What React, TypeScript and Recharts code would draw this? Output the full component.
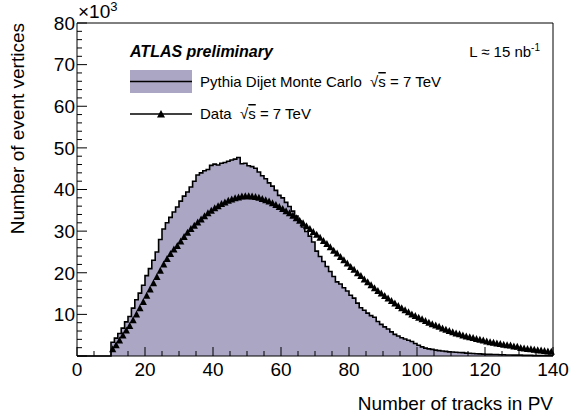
import React from "react";
import { ComposedChart, Area, Scatter, XAxis, YAxis } from "recharts";

// Pythia dijet MC histogram, bins of width 1 from 10 to 140 (x10^3 vertices)
const MC_FIRST_BIN = 10;
const mcCounts = [
  3.3, 4.3, 5.4, 6.7, 8.2, 9.5, 11.5, 13.5, 15.1, 17.0,
  19.3, 21.0, 23.0, 25.0, 28.0, 30.5, 32.0, 33.3, 34.6, 35.8,
  37.2, 38.4, 39.4, 40.6, 42.0, 43.5, 44.0, 44.5, 44.8, 45.8,
  46.1, 45.9, 46.3, 46.5, 46.8, 47.1, 47.3, 47.7, 46.2, 46.3,
  45.7, 45.5, 45.1, 44.2, 43.3, 42.6, 41.6, 40.8, 39.8, 38.6,
  38.0, 36.9, 35.9, 34.8, 33.6, 32.4, 31.0, 29.9, 28.8, 27.4,
  25.2, 23.9, 22.7, 21.5, 20.3, 19.1, 17.8, 17.3, 16.4, 15.6,
  14.6, 13.9, 12.7, 11.6, 11.0, 10.3, 9.7, 9.3, 8.3, 7.6,
  7.0, 6.5, 5.8, 5.2, 4.8, 4.4, 4.1, 3.8, 3.5, 3.0,
  2.6, 2.2, 1.9, 1.7, 1.6, 1.4, 1.3, 1.2, 1.1, 1.0,
  0.95, 0.9, 0.85, 0.8, 0.7, 0.65, 0.6, 0.55, 0.5, 0.45,
  0.4, 0.4, 0.35, 0.35, 0.3, 0.3, 0.25, 0.25, 0.2, 0.2,
  0.2, 0.15, 0.15, 0.15, 0.1, 0.1, 0.1, 0.1, 0.1, 0.1,
];

// measured data, one point per bin centre (x10^3 vertices)
const dataCounts = [
  1.6, 2.6, 3.7, 4.9, 6.1, 7.2, 8.6, 10.0, 11.5, 13.0,
  14.5, 16.0, 17.5, 19.0, 20.5, 22.0, 23.3, 24.5, 25.6, 26.4,
  27.5, 28.6, 29.6, 30.5, 31.3, 32.1, 32.8, 33.6, 34.3, 34.9,
  35.5, 36.0, 36.5, 36.9, 37.3, 37.6, 37.9, 38.1, 38.3, 38.4,
  38.4, 38.3, 38.2, 38.0, 37.7, 37.4, 37.1, 36.7, 36.3, 35.8,
  35.3, 34.8, 34.3, 33.7, 33.1, 32.5, 31.9, 31.2, 30.5, 29.8,
  29.1, 28.4, 27.6, 26.9, 26.1, 25.3, 24.6, 23.8, 23.0, 22.2,
  21.4, 20.7, 19.9, 19.2, 18.4, 17.7, 17.0, 16.3, 15.6, 15.0,
  14.4, 13.8, 13.2, 12.6, 12.0, 11.5, 11.0, 10.5, 10.0, 9.6,
  9.2, 8.8, 8.4, 8.0, 7.6, 7.3, 7.0, 6.6, 6.3, 6.0,
  5.7, 5.4, 5.2, 4.9, 4.7, 4.5, 4.3, 4.1, 3.9, 3.7,
  3.5, 3.3, 3.2, 3.0, 2.9, 2.7, 2.6, 2.5, 2.3, 2.2,
  1.9, 1.8, 1.7, 1.6, 1.5, 1.4, 1.3, 1.2, 1.1, 1.0,
];

const xMajor = [0, 20, 40, 60, 80, 100, 120, 140];
const yMajor = [10, 20, 30, 40, 50, 60, 70, 80];
const X_MINOR_STEP = 5;
const Y_MINOR_STEP = 2;

const FONT = '"Liberation Sans", Arial, Helvetica, sans-serif';
const MC_FILL = "#aaa6c3";

const lastBin = mcCounts[mcCounts.length - 1];
const mcPoints = [
  { x: 0, mc: 0 },
  { x: MC_FIRST_BIN, mc: 0 },
  ...mcCounts.map((v, i) => ({ x: MC_FIRST_BIN + i, mc: v })),
  { x: MC_FIRST_BIN + mcCounts.length, mc: lastBin },
];
const dataPoints = dataCounts.map((v, i) => ({ x: MC_FIRST_BIN + i + 0.5, y: v }));

const xTicks = Array.from({ length: 140 / X_MINOR_STEP + 1 }, (_, i) => i * X_MINOR_STEP);
const yTicks = Array.from({ length: 80 / Y_MINOR_STEP + 1 }, (_, i) => i * Y_MINOR_STEP);

function Triangle(props: any) {
  const { cx, cy } = props;
  if (cx == null || cy == null) return null;
  return <polygon points={`${cx - 3.6},${cy + 3} ${cx + 3.6},${cy + 3} ${cx},${cy - 4}`} fill="#000" />;
}

// ticks point into the frame, ROOT style
function BottomTick(props: any) {
  const { x, y, payload } = props;
  const major = xMajor.includes(payload.value);
  return (
    <g>
      <line x1={x} x2={x} y1={y} y2={y - (major ? 9 : 5)} stroke="#000" />
      {major && (
        <text x={x} y={y + 20} textAnchor="middle" fontSize={19} fontFamily={FONT} fill="#000">
          {payload.value}
        </text>
      )}
    </g>
  );
}

function TopTick(props: any) {
  const { x, y, payload } = props;
  const major = xMajor.includes(payload.value);
  return <line x1={x} x2={x} y1={y} y2={y + (major ? 9 : 5)} stroke="#000" />;
}

function LeftTick(props: any) {
  const { x, y, payload } = props;
  const major = payload.value % 10 === 0;
  return (
    <g>
      <line x1={x} x2={x + (major ? 10 : 5)} y1={y} y2={y} stroke="#000" />
      {yMajor.includes(payload.value) && (
        <text x={x - 2} y={y} dy="0.36em" textAnchor="end" fontSize={19} fontFamily={FONT} fill="#000">
          {payload.value}
        </text>
      )}
    </g>
  );
}

function RightTick(props: any) {
  const { x, y, payload } = props;
  const major = payload.value % 10 === 0;
  return <line x1={x} x2={x - (major ? 10 : 5)} y1={y} y2={y} stroke="#000" />;
}

export default function App() {
  return (
    <div style={{ position: "relative", width: 579, height: 417, background: "#fff" }}>
      <style>{`body{margin:0}`}</style>
      <ComposedChart width={579} height={417} margin={{ top: 22, right: 25, bottom: 21, left: 17 }}>
        <XAxis
          xAxisId="b"
          dataKey="x"
          type="number"
          domain={[0, 140]}
          ticks={xTicks}
          interval={0}
          tickSize={0}
          tickMargin={0}
          tick={<BottomTick />}
          height={40}
          axisLine={{ stroke: "#000" }}
        />
        <XAxis
          xAxisId="t"
          orientation="top"
          dataKey="x"
          type="number"
          domain={[0, 140]}
          ticks={xTicks}
          interval={0}
          tickSize={0}
          tickMargin={0}
          tick={<TopTick />}
          height={1}
          axisLine={{ stroke: "#000" }}
        />
        <YAxis
          yAxisId="l"
          type="number"
          domain={[0, 80]}
          ticks={yTicks}
          interval={0}
          tickSize={0}
          tickMargin={0}
          tick={<LeftTick />}
          width={60}
          axisLine={{ stroke: "#000" }}
        />
        <YAxis
          yAxisId="r"
          orientation="right"
          type="number"
          domain={[0, 80]}
          ticks={yTicks}
          interval={0}
          tickSize={0}
          tickMargin={0}
          tick={<RightTick />}
          width={1}
          axisLine={{ stroke: "#000" }}
        />
        <Area
          xAxisId="b"
          yAxisId="l"
          data={mcPoints}
          dataKey="mc"
          type="stepAfter"
          stroke="#000"
          strokeWidth={1.6}
          fill={MC_FILL}
          fillOpacity={1}
          isAnimationActive={false}
        />
        <Scatter
          xAxisId="b"
          yAxisId="l"
          data={dataPoints}
          dataKey="y"
          shape={<Triangle />}
          isAnimationActive={false}
        />
      </ComposedChart>

      {/* labels and legend drawn on top of the chart */}
      <svg
        width={579}
        height={417}
        style={{ position: "absolute", left: 0, top: 0, pointerEvents: "none" }}
        fontFamily={FONT}
      >
        <text x={78} y={18} fontSize={19} fill="#000">
          ×10<tspan fontSize={13} dy={-7}>3</tspan>
        </text>
        <text
          x={24}
          y={23}
          fontSize={19}
          textAnchor="end"
          transform="rotate(-90 24 23)"
          fill="#000"
        >
          Number of event vertices
        </text>
        <text x={553} y={410} fontSize={19} textAnchor="end" fill="#000">
          Number of tracks in PV
        </text>

        <text x={130} y={57} fontSize={16} fontWeight="bold" fontStyle="italic" fill="#000">
          ATLAS preliminary
        </text>
        <text x={540} y={57} fontSize={15} textAnchor="end" fill="#000">
          L ≈ 15 nb<tspan fontSize={10} dy={-6}>-1</tspan>
        </text>

        <rect x={130} y={70} width={62} height={23} fill={MC_FILL} />
        <line x1={130} x2={192} y1={81.5} y2={81.5} stroke="#000" strokeWidth={1.5} />
        <text x={200} y={87} fontSize={15} fill="#000">
          Pythia Dijet Monte Carlo{"\u00a0\u00a0"}√<tspan style={{ textDecoration: "overline" }}>s</tspan> = 7 TeV
        </text>

        <line x1={130} x2={192} y1={114} y2={114} stroke="#000" strokeWidth={1.5} />
        <polygon points="157,117.5 165,117.5 161,110" fill="#000" />
        <text x={200} y={119} fontSize={15} fill="#000">
          Data{"\u00a0\u00a0"}√<tspan style={{ textDecoration: "overline" }}>s</tspan> = 7 TeV
        </text>
      </svg>
    </div>
  );
}
